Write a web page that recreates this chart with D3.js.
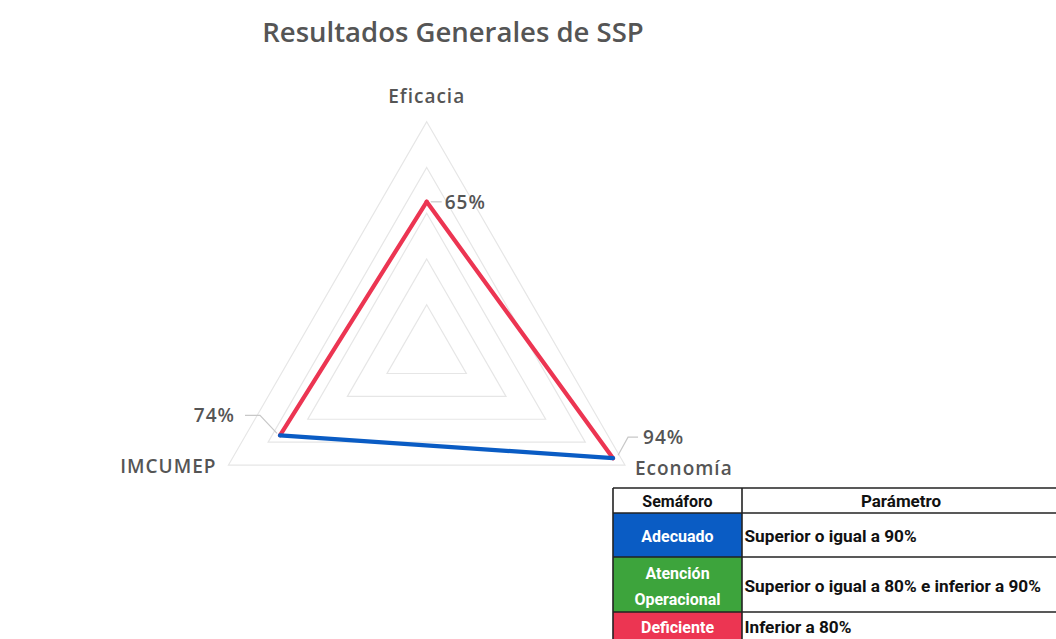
<!DOCTYPE html>
<html><head><meta charset="utf-8">
<script src="https://cdn.jsdelivr.net/npm/d3@7"></script>
<style>html,body{margin:0;padding:0;background:#fff;}svg{display:block;}</style>
</head><body>
<script>
const title = "Resultados Generales de SSP";
const axes = ["Eficacia", "Economía", "IMCUMEP"];
const values = [0.65, 0.94, 0.74];
const valueLabels = ["65%", "94%", "74%"];
// colour of each polygon edge: from axis i to axis i+1
const edgeStatus = ["Deficiente", "Adecuado", "Deficiente"];
const gridTicks = [0.2, 0.4, 0.6, 0.8, 1.0];

const tableHeader = ["Semáforo", "Parámetro"];
const semaforo = [["Adecuado"], ["Atención", "Operacional"], ["Deficiente"]];
const semaforoKeys = ["Adecuado", "Atención Operacional", "Deficiente"];
const parametro = ["Superior o igual a 90%", "Superior o igual a 80% e inferior a 90%", "Inferior a 80%"];
const semaforoColors = ["#0a5cc4", "#3da43c", "#ec3552"];

const W = 1056, H = 639;
const svg = d3.select("body").append("svg").attr("width", W).attr("height", H);
svg.append("rect").attr("width", W).attr("height", H).attr("fill", "#fff");

const cx = 426.7, cy = 350.6, R = 228.9;
const r = d3.scaleLinear().domain([0, 1]).range([0, R]);
const angle = d3.scalePoint().domain(axes).range([0, 2 * Math.PI * 2 / 3]);
function pt(axis, v) {
  const a = angle(axis) - Math.PI / 2;
  return [cx + r(v) * Math.cos(a), cy + r(v) * Math.sin(a)];
}
const colorOf = d3.scaleOrdinal().domain(semaforoKeys).range(semaforoColors);

const font = "'Open Sans', 'DejaVu Sans', sans-serif";
const textCol = "#555555";

// title
svg.append("text").attr("x", 453).attr("y", 42).attr("text-anchor", "middle")
  .attr("font-family", font).attr("font-weight", 600).attr("font-size", 27.5)
  .attr("fill", textCol).text(title);

// grid rings
const line = d3.line();
gridTicks.forEach(t => {
  svg.append("path")
    .attr("d", line(axes.map(a => pt(a, t))) + "Z")
    .attr("fill", "none").attr("stroke", "#e6e6e6").attr("stroke-width", 1.2);
});

// axis labels
const axisLabelPos = {
  "Eficacia": {dx: 0, dy: -19, anchor: "middle"},
  "Economía": {dx: 10, dy: 10, anchor: "start"},
  "IMCUMEP": {dx: -12, dy: 8, anchor: "end"}
};
axes.forEach(a => {
  const p = pt(a, 1), o = axisLabelPos[a];
  svg.append("text").attr("x", p[0] + o.dx).attr("y", p[1] + o.dy)
    .attr("text-anchor", o.anchor).attr("font-family", font).attr("font-size", 19)
    .attr("font-weight", 600).attr("letter-spacing", 1)
    .attr("fill", textCol).text(a);
});

// polygon edges
const pts = axes.map((a, i) => pt(a, values[i]));
const order = [0, 2, 1]; // draw blue last
order.forEach(i => {
  const j = (i + 1) % axes.length;
  svg.append("path").attr("d", line([pts[i], pts[j]]))
    .attr("stroke", colorOf(edgeStatus[i])).attr("stroke-width", 4.2)
    .attr("stroke-linecap", "round").attr("fill", "none");
});

// value labels with leader lines
const labelCfg = [
  {tx: 18, ty: 7, anchor: "start", leader: [[4, 0], [15, 0]]},
  {tx: 30, ty: -14, anchor: "start", leader: [[5, -3], [15, -21], [25, -21]]},
  {tx: -45, ty: -13, anchor: "end", leader: [[-3, -2], [-20, -20], [-35, -20]]}
];
axes.forEach((a, i) => {
  const p = pts[i], c = labelCfg[i];
  svg.append("path").attr("d", line(c.leader.map(d => [p[0] + d[0], p[1] + d[1]])))
    .attr("fill", "none").attr("stroke", "#c8c8c8").attr("stroke-width", 1.2);
  svg.append("text").attr("x", p[0] + c.tx).attr("y", p[1] + c.ty)
    .attr("text-anchor", c.anchor).attr("font-family", font).attr("font-size", 19)
    .attr("font-weight", 600).attr("letter-spacing", 1)
    .attr("fill", textCol).text(valueLabels[i]);
});

// table
const tFont = "'Roboto', 'Liberation Sans', sans-serif";
const x0 = 613, x1 = 742, x2 = 1062;
const rowY = [488, 513, 557, 612, 645];
const tg = svg.append("g");
tg.append("rect").attr("x", x0).attr("y", rowY[0]).attr("width", x2 - x0).attr("height", rowY[1] - rowY[0]).attr("fill", "#fff");
semaforo.forEach((s, i) => {
  tg.append("rect").attr("x", x0).attr("y", rowY[i + 1]).attr("width", x1 - x0)
    .attr("height", rowY[i + 2] - rowY[i + 1]).attr("fill", semaforoColors[i]);
});
tg.append("text").attr("x", (x0 + x1) / 2).attr("y", rowY[0] + 19).attr("text-anchor", "middle")
  .attr("font-family", tFont).attr("font-weight", 700).attr("font-size", 16).attr("fill", "#111").text(tableHeader[0]);
tg.append("text").attr("x", 901).attr("y", rowY[0] + 19).attr("text-anchor", "middle")
  .attr("font-family", tFont).attr("font-weight", 700).attr("font-size", 17).attr("fill", "#111").text(tableHeader[1]);
semaforo.forEach((s, i) => {
  const top = rowY[i + 1], bot = Math.min(rowY[i + 2], 639);
  const mid = (top + bot) / 2;
  s.forEach((ln, k) => {
    tg.append("text").attr("x", (x0 + x1) / 2)
      .attr("y", mid + 7 + (k - (s.length - 1) / 2) * 26)
      .attr("text-anchor", "middle").attr("font-family", tFont).attr("font-weight", 700)
      .attr("font-size", 16).attr("fill", "#fff").text(ln);
  });
  tg.append("text").attr("x", x1 + 2.5).attr("y", mid + 7)
    .attr("font-family", tFont).attr("font-weight", 700).attr("font-size", 17.2)
    .attr("fill", "#111").text(parametro[i]);
});
// borders
rowY.slice(0, 4).forEach(y => {
  tg.append("line").attr("x1", x0).attr("x2", x2).attr("y1", y).attr("y2", y)
    .attr("stroke", "#222").attr("stroke-width", 1.6);
});
[x0, x1].forEach(x => {
  tg.append("line").attr("x1", x).attr("x2", x).attr("y1", rowY[0]).attr("y2", 645)
    .attr("stroke", "#222").attr("stroke-width", 1.6);
});
</script>
</body></html>
